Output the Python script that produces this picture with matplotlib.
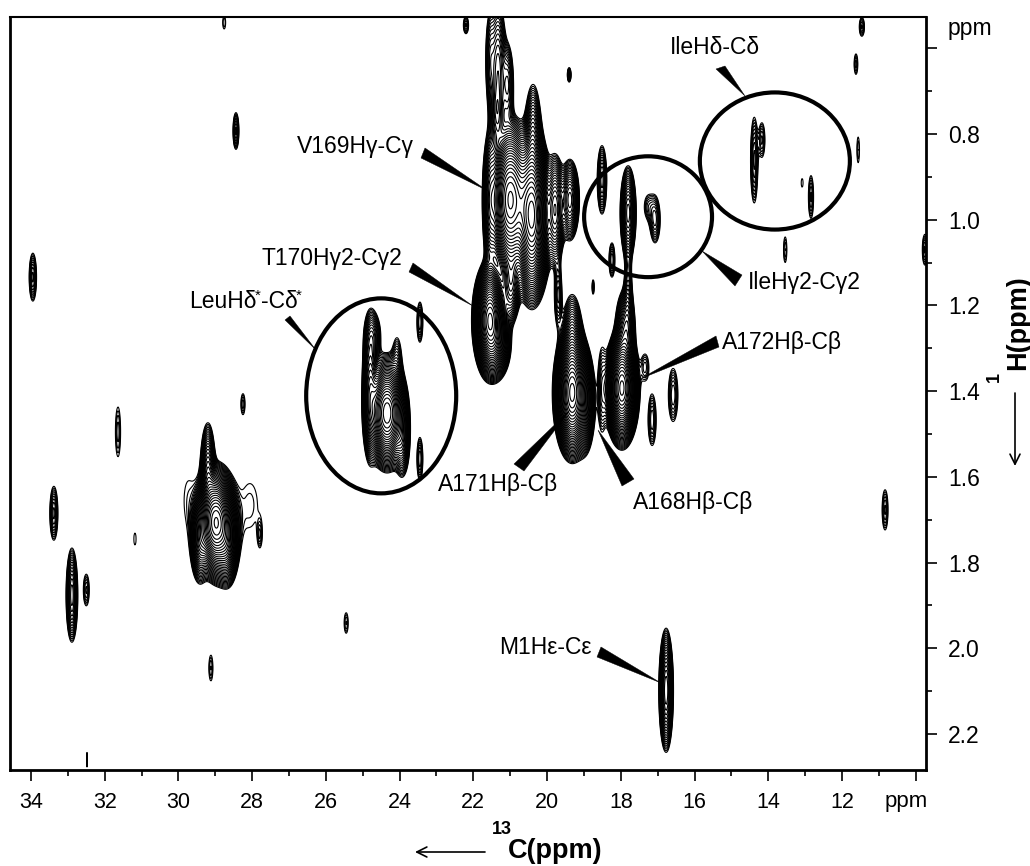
import numpy as np
import matplotlib
matplotlib.use("Agg")
import matplotlib.pyplot as plt
from matplotlib.patches import Ellipse, Polygon
from matplotlib.transforms import Affine2D

plt.rcParams['font.family'] = ['Liberation Sans', 'DejaVu Sans']

W, H = 1030, 866

# peaks: 13C ppm, 1H ppm, half extents, peak height
peak_c = [21.0, 20.41, 20.38, 21.55, 21.33, 21.55, 21.06, 21.36,
          21.55, 20.98, 21.36,
          19.78, 19.38, 19.70, 18.51, 18.24, 19.4, 22.2, 18.75,
          17.8, 17.8, 17.97, 17.88, 19.32, 19.32, 18.97,
          17.34, 17.15, 16.58, 18.51, 17.07, 17.26,
          14.38, 14.17, 12.84, 13.08, 13.54, 11.56, 11.62, 11.46, 9.75, 10.83,
          33.95, 28.44, 31.64, 28.25, 33.38, 32.89, 32.5, 31.18, 29.12, 25.45, 27.79, 32.48, 28.76,
          24.34, 24.8, 24.72, 24.07, 23.93, 23.45, 23.45,
          29.0, 29.2, 28.82, 29.42, 28.66, 29.74, 28.06,
          16.77]
peak_h = [0.954, 0.99, 0.81, 0.954, 0.65, 0.627, 0.686, 0.755,
          1.234, 1.148, 1.29,
          0.977, 0.954, 1.176, 0.907, 1.094, 0.662, 0.546, 1.157,
          0.984, 1.187, 1.393, 1.257, 1.404, 1.28, 1.428,
          1.344, 1.467, 1.409, 1.397, 1.0, 0.97,
          0.861, 0.814, 0.947, 0.914, 1.07, 0.837, 0.637, 0.55, 1.07, 1.677,
          1.134, 0.793, 1.495, 1.43, 1.685, 1.876, 1.864, 1.745, 2.046, 1.941, 1.736, 2.26, 0.54,
          1.451, 1.397, 1.27, 1.327, 1.514, 1.239, 1.558,
          1.705, 1.584, 1.724, 1.747, 1.76, 1.654, 1.666,
          2.098]
peak_wc = [0.65, 0.56, 0.22, 0.2, 0.22, 0.11, 0.15, 0.16,
           0.5, 0.25, 0.38,
           0.27, 0.26, 0.1, 0.13, 0.08, 0.05, 0.07, 0.03,
           0.22, 0.1, 0.5, 0.27, 0.54, 0.27, 0.27,
           0.1, 0.11, 0.13, 0.11, 0.14, 0.1,
           0.1, 0.08, 0.07, 0.025, 0.045, 0.035, 0.05, 0.07, 0.07, 0.08,
           0.1, 0.08, 0.07, 0.055, 0.11, 0.16, 0.08, 0.03, 0.055, 0.055, 0.03, 0.012, 0.04,
           0.6, 0.22, 0.2, 0.11, 0.2, 0.08, 0.08,
           0.6, 0.2, 0.45, 0.25, 0.27, 0.1, 0.2,
           0.2]
peak_wh = [0.2, 0.22, 0.125, 0.16, 0.16, 0.1, 0.09, 0.07,
           0.145, 0.095, 0.08,
           0.13, 0.095, 0.07, 0.08, 0.04, 0.017, 0.02, 0.017,
           0.11, 0.11, 0.145, 0.095, 0.165, 0.105, 0.115,
           0.03, 0.06, 0.062, 0.095, 0.054, 0.025,
           0.1, 0.04, 0.05, 0.01, 0.03, 0.03, 0.024, 0.022, 0.036, 0.047,
           0.056, 0.043, 0.058, 0.024, 0.063, 0.11, 0.037, 0.014, 0.03, 0.024, 0.015, 0.017, 0.015,
           0.14, 0.17, 0.05, 0.05, 0.085, 0.047, 0.05,
           0.14, 0.11, 0.12, 0.1, 0.09, 0.04, 0.05,
           0.145]
peak_amp = [60, 70, 6, 8, 6, 3, 4, 4,
            60, 8, 10,
            12, 10, 3, 4, 2.5, 3, 2, 1.6,
            10, 3, 70, 8, 70, 6, 8,
            1.8, 2.5, 2.5, 2.5, 3, 1.6,
            3, 2, 2, 1.1, 1.5, 1.3, 1.6, 2, 2, 2,
            3, 3, 1.6, 1.6, 3, 6, 2, 1.1, 1.5, 1.5, 1.2, 1.05, 1.3,
            50, 10, 3, 2, 6, 2.5, 2.5,
            60, 8, 12, 10, 10, 1.1, 1.2,
            12]

x_ticks = [34, 32, 30, 28, 26, 24, 22, 20, 18, 16, 14, 12, 10]
x_tick_labels = ['34', '32', '30', '28', '26', '24', '22', '20', '18', '16', '14', '12', '']
y_ticks = [0.6, 0.8, 1.0, 1.2, 1.4, 1.6, 1.8, 2.0, 2.2]
y_tick_labels = ['', '0.8', '1.0', '1.2', '1.4', '1.6', '1.8', '2.0', '2.2']

circles = [(24.5, 1.411, 4.07, 0.455), (17.26, 0.993, 3.47, 0.282), (13.82, 0.863, 4.07, 0.32)]

labels = [('V169Hγ-Cγ', 297, 146), ('T170Hγ2-Cγ2', 262, 258), ('LeuHδ', 189, 302), ('-Cδ', 261, 302),
          ('IleHδ-Cδ', 670, 48), ('IleHγ2-Cγ2', 748, 283), ('A172Hβ-Cβ', 722, 342),
          ('A171Hβ-Cβ', 438, 485), ('A168Hβ-Cβ', 633, 502), ('M1Hε-Cε', 499, 647)]
stars = [(255, 296), (296, 296)]

# wedge pointers in image pixels: two corners at the wide end, then the tip
wedges = [[(425, 148), (421, 158), (488, 191)],
          [(413, 263), (409, 272), (473, 306)],
          [(285, 320), (290, 316), (316, 350)],
          [(716, 69), (725, 66), (745, 96)],
          [(735, 286), (742, 275), (702, 251)],
          [(716, 336), (719, 347), (640, 379)],
          [(514, 464), (524, 471), (570, 410)],
          [(622, 486), (634, 479), (598, 430)],
          [(597, 657), (601, 647), (661, 683)]]

fig = plt.figure(figsize=(W / 100, H / 100), dpi=100)
ax = fig.add_axes([10 / W, 1 - 770 / H, 916 / W, 753 / H])
px = Affine2D().scale(1, -1).translate(0, H)

xx = np.linspace(34.57, 9.72, 1500)
yy = np.linspace(0.527, 2.284, 1300)
X, Y = np.meshgrid(xx, yy)
Z = np.zeros_like(X)
for c, h, wc, wh, a in zip(peak_c, peak_h, peak_wc, peak_wh, peak_amp):
    Z += a ** (1 - ((X - c) / wc) ** 2 - ((Y - h) / wh) ** 2)

levels = 1.14 ** np.arange(0, 45)
ax.contour(X, Y, Z, levels=levels, colors='k', linewidths=0.8)

for c, h, w, ht in circles:
    ax.add_patch(Ellipse((c, h), w, ht, fill=False, ec='k', lw=3, zorder=5))
for pts in wedges:
    ax.add_patch(Polygon(pts, closed=True, fc='k', ec='k', lw=0.3, transform=px, zorder=6))
for s, x, y in labels:
    ax.text(x, y, s, transform=px, fontsize=16.5, ha='left', va='center', zorder=7)
for x, y in stars:
    ax.text(x, y, '*', transform=px, fontsize=11, ha='left', va='center', zorder=7)

ax.set_xlim(34.57, 9.72)
ax.set_ylim(2.284, 0.527)
ax.set_xticks(x_ticks)
ax.set_xticklabels(x_tick_labels)
ax.set_yticks(y_ticks)
ax.set_yticklabels(y_tick_labels)
ax.set_xticks(np.arange(11, 34, 2), minor=True)
ax.set_yticks(np.arange(0.7, 2.3, 0.2), minor=True)
ax.yaxis.tick_right()
ax.tick_params(which='major', length=8, width=1.2, pad=8)
ax.tick_params(axis='x', which='major', labelsize=15.5)
ax.tick_params(axis='y', which='major', labelsize=16.5)
ax.tick_params(which='minor', length=4, width=1.2)
ax.tick_params(axis='y', which='both', right=True, left=False)
for s in ['left', 'right', 'bottom']:
    ax.spines[s].set_linewidth(2)
ax.spines['top'].set_linewidth(1.5)

fig.text(906, 802, 'ppm', transform=px, fontsize=16, ha='center', va='center')
fig.text(948, 28, 'ppm', transform=px, fontsize=16.5, ha='left', va='center')

# axis titles with their arrows
fig.text(492, 830, '13', transform=px, fontsize=13, fontweight='bold', ha='left', va='center')
fig.text(508, 851, 'C(ppm)', transform=px, fontsize=19.5, fontweight='bold', ha='left', va='center')
fig.text(1018, 370, 'H(ppm)', transform=px, fontsize=19.5, fontweight='bold', rotation=90, ha='center', va='bottom')
fig.text(994, 377, '1', transform=px, fontsize=13, fontweight='bold', rotation=90, ha='center', va='center')
ax.annotate('', xy=(415, 852), xytext=(485, 852), xycoords=px, textcoords=px, annotation_clip=False,
            arrowprops=dict(arrowstyle='->', lw=1.2, color='k', mutation_scale=18, shrinkA=0, shrinkB=0))
ax.annotate('', xy=(1015, 466), xytext=(1015, 393), xycoords=px, textcoords=px, annotation_clip=False,
            arrowprops=dict(arrowstyle='->', lw=1.2, color='k', mutation_scale=18, shrinkA=0, shrinkB=0))

fig.savefig('out.png', dpi=100)
